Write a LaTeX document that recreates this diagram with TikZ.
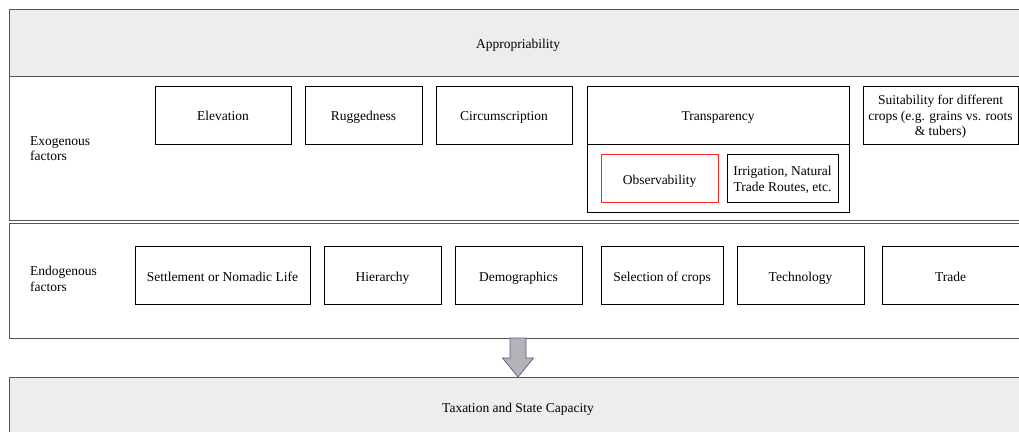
\documentclass[tikz,border=0pt]{standalone}
\usepackage{fontspec}
\setmainfont{Liberation Serif}
\usetikzlibrary{calc}
\definecolor{bandfill}{HTML}{EDEDED}
\definecolor{bandline}{HTML}{555555}
\definecolor{arrfill}{HTML}{B3B3BA}
\definecolor{arrline}{HTML}{5A5A80}
\tikzset{
  txt/.style={font=\fontsize{13.5}{15.5}\selectfont, inner sep=0pt, align=center, text height=9pt, text depth=0pt},
  multi/.style={txt, text height={}, text depth={}},
  fbox/.style={draw=black, line width=0.9pt},
  band/.style={draw=bandline, line width=0.9pt},
}
\begin{document}
\begin{tikzpicture}[x=1pt,y=-1pt]
\useasboundingbox (0,0) rectangle (1019,431);
\clip (0,0) rectangle (1019,431);
% top band
\draw[band, fill=bandfill] (9,9) rectangle (1030,76);
\node[txt] (approp) at (518,44) {Appropriability};
% exogenous band
\draw[band] (1030,76) -- (9,76) -- (9,220.5) -- (1030,220.5);
\draw[band] (1030,223.5) -- (9,223.5) -- (9,338) -- (1030,338);
\node[multi, align=left, anchor=west] (exo) at (30,148.5) {Exogenous\\factors};
\node[multi, align=left, anchor=west] (endo) at (30,279) {Endogenous\\factors};
% exogenous boxes
\draw[fbox] (155,86) rectangle (291,144);
\node[txt] (elev) at (223,116) {Elevation};
\draw[fbox] (305,86) rectangle (422,144);
\node[txt] (rugg) at (363.5,116) {Ruggedness};
\draw[fbox] (436,86) rectangle (572,144);
\node[txt] (circ) at (504,116) {Circumscription};
\draw[fbox] (587,86) rectangle (849,212);
\draw[fbox] (587,144) -- (849,144);
\node[txt] (transp) at (718,116) {Transparency};
\draw[draw=red!85!white, line width=0.9pt] (601,154) rectangle (718,202);
\node[txt] (obs) at (659.5,180) {Observability};
\draw[fbox] (727,154) rectangle (838,202);
\node[multi] (irr) at (782.5,180) {Irrigation, Natural\\Trade Routes, etc.};
\draw[fbox] (863,86) rectangle (1018,144);
\node[multi] (suit) at (940.5,117) {Suitability for different\\crops (e.g. grains vs. roots\\\& tubers)};
% endogenous boxes
\draw[fbox] (135,246) rectangle (310,304);
\node[txt] (settle) at (222.5,276.5) {Settlement or Nomadic Life};
\draw[fbox] (324,246) rectangle (441,304);
\node[txt] (hier) at (382.5,276.5) {Hierarchy};
\draw[fbox] (455,246) rectangle (582,304);
\node[txt] (demo) at (518.5,276.5) {Demographics};
\draw[fbox] (601,246) rectangle (723,304);
\node[txt] (sel) at (662,276.5) {Selection of crops};
\draw[fbox] (737,246) rectangle (864,304);
\node[txt] (tech) at (800.5,276.5) {Technology};
\draw[fbox] (882,246) rectangle (1019,304);
\node[txt] (trade) at (950.5,276.5) {Trade};
% bottom band
\draw[band, fill=bandfill] (9,377) rectangle (1030,440);
\node[txt] (tax) at (518,408) {Taxation and State Capacity};
% arrow
\coordinate (atop) at (518,338);
\coordinate (atip) at (518,377);
\draw[draw=arrline, fill=arrfill, line width=0.7pt, line join=miter]
  ($(atop)+(-8,0)$) -- ($(atop)+(8,0)$) -- ($(atop)+(8,20)$) -- ($(atop)+(15.5,20)$)
  -- (atip) -- ($(atop)+(-15.5,20)$) -- ($(atop)+(-8,20)$) -- cycle;
\end{tikzpicture}
\end{document}
